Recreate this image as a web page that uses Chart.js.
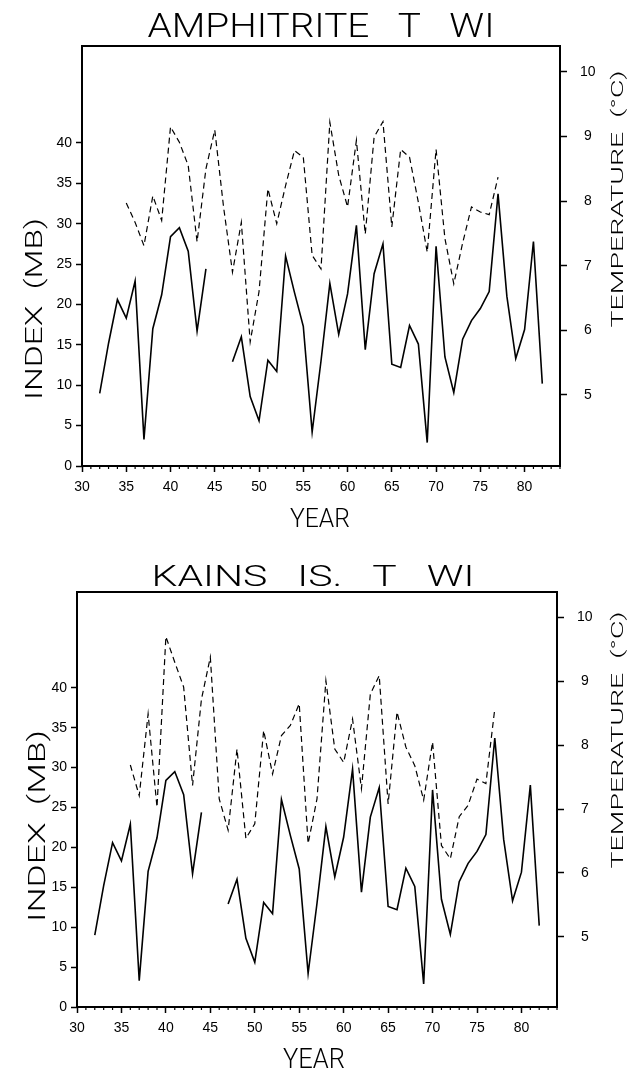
<!DOCTYPE html>
<html>
<head>
<meta charset="utf-8">
<script src="https://cdn.jsdelivr.net/npm/chart.js@4.4.0/dist/chart.umd.min.js"></script>
<style>
  html, body { margin: 0; padding: 0; background: #fff; }
  canvas { display: block; }
</style>
</head>
<body>
<canvas id="chartTop" width="635" height="535"></canvas>
<canvas id="chartBottom" width="635" height="536"></canvas>
<script>
// ----------- data -----------
const years = [32, 33, 34, 35, 36, 37, 38, 39, 40, 41, 42, 43, 44, 45, 46, 47, 48, 49, 50, 51,
               52, 53, 54, 55, 56, 57, 58, 59, 60, 61, 62, 63, 64, 65, 66, 67, 68, 69, 70, 71,
               72, 73, 74, 75, 76, 77, 78, 79, 80, 81, 82];

// wind index (MB), solid line, same series on both panels
const windIndex = [9.0, 15.2, 20.6, 18.3, 22.9, 3.3, 17.0, 21.2, 28.4, 29.5, 26.6, 16.7, 24.4, null, null, 12.9, 16.0, 8.6, 5.6, 13.1,
                   11.7, 26.0, 21.5, 17.3, 4.2, 13.0, 22.6, 16.3, 21.3, 29.8, 14.4, 23.8, 27.5, 12.6, 12.2, 17.4, 15.1, 2.9, 27.2, 13.5,
                   9.1, 15.7, 18.0, 19.5, 21.6, 33.7, 21.0, 13.3, 16.9, 27.8, 10.2];

// temperature (°C), dashed line
const tempAmphitrite = [null, null, null, 7.97, 7.67, 7.31, 8.08, 7.70, 9.15, 8.91, 8.55, 7.37, 8.50, 9.10, 7.90, 6.90, 7.67, 5.82, 6.60, 8.19,
                        7.65, 8.24, 8.78, 8.68, 7.16, 6.95, 9.22, 8.40, 7.91, 8.94, 7.49, 8.99, 9.23, 7.60, 8.80, 8.68, 7.98, 7.21, 8.80, 7.42,
                        6.72, 7.35, 7.91, 7.83, 7.79, 8.37, null, null, null, null, null];

const tempKains = [null, null, null, null, 7.69, 7.21, 8.49, 7.03, 9.70, 9.30, 8.91, 7.37, 8.72, 9.38, 7.16, 6.67, 7.94, 6.54, 6.77, 8.23,
                   7.55, 8.15, 8.31, 8.65, 6.46, 7.16, 9.01, 7.94, 7.73, 8.41, 7.32, 8.80, 9.09, 7.08, 8.52, 7.97, 7.68, 7.14, 8.05, 6.43,
                   6.22, 6.88, 7.06, 7.47, 7.40, 8.57, null, null, null, null, null];

const yearTicks = [30, 35, 40, 45, 50, 55, 60, 65, 70, 75, 80];
const indexTicks = [0, 5, 10, 15, 20, 25, 30, 35, 40];
const tempTicks = [5, 6, 7, 8, 9, 10];

const FONT = '"Liberation Sans", Arial, sans-serif';
const LABEL_FONT = '300 {size}px Roboto, "Liberation Sans", sans-serif';

// draws text squeezed/stretched to a given length (the scanned lettering is wide)
function fitText(ctx, text, x, y, size, len, angle) {
    ctx.save();
    ctx.font = LABEL_FONT.replace('{size}', size);
    const w = ctx.measureText(text).width;
    ctx.translate(x, y);
    ctx.rotate(angle);
    ctx.scale(len / w, 1);
    ctx.textAlign = 'center';
    ctx.textBaseline = 'alphabetic';
    ctx.fillStyle = '#000';
    ctx.fillText(text, 0, 0);
    ctx.restore();
}

// frame, minor year ticks, titles
const decoPlugin = {
    id: 'deco',
    afterDraw(chart, args, opts) {
        const ctx = chart.ctx;
        const a = chart.chartArea;
        const xs = chart.scales.x;

        ctx.save();
        ctx.strokeStyle = '#000';
        ctx.lineWidth = 2;
        ctx.strokeRect(a.left, a.top, a.right - a.left, a.bottom - a.top);

        // minor ticks every year
        ctx.lineWidth = 1.2;
        ctx.beginPath();
        for (let yr = xs.min; yr <= xs.max; yr++) {
            if (yr % 5 === 0) continue;
            const px = xs.getPixelForValue(yr);
            ctx.moveTo(px, a.bottom);
            ctx.lineTo(px, a.bottom + 3);
        }
        ctx.stroke();
        ctx.restore();

        const t = opts.title;
        fitText(ctx, t.text, t.x, t.y, t.size, t.len, 0);
        const yr = opts.year;
        fitText(ctx, 'YEAR', yr.x, yr.y, yr.size, yr.len, 0);
        const l = opts.left;
        fitText(ctx, 'INDEX  (MB)', l.x, l.y, l.size, l.len, -Math.PI / 2);
        const r = opts.right;
        fitText(ctx, 'TEMPERATURE  (°C)', r.x, r.y, r.size, r.len, -Math.PI / 2);
    }
};

function makeChart(canvasId, tempData, box, deco) {
    const ctx = document.getElementById(canvasId).getContext('2d');
    const tickFont = { family: FONT, size: 14 };
    return new Chart(ctx, {
        type: 'line',
        data: {
            datasets: [
                {
                    label: 'Index',
                    data: years.map((yr, i) => ({ x: yr, y: windIndex[i] })),
                    borderColor: '#000',
                    borderWidth: 1.6,
                    pointRadius: 0,
                    tension: 0,
                    yAxisID: 'y'
                },
                {
                    label: 'Temperature',
                    data: years.map((yr, i) => ({ x: yr, y: tempData[i] })),
                    borderColor: '#000',
                    borderWidth: 1.2,
                    borderDash: [6, 4],
                    pointRadius: 0,
                    tension: 0,
                    yAxisID: 'y2'
                }
            ]
        },
        options: {
            responsive: false,
            animation: false,
            layout: { padding: { top: box.top, left: 0, right: 0, bottom: 0 } },
            plugins: {
                legend: { display: false },
                tooltip: { enabled: false },
                deco: deco
            },
            scales: {
                x: {
                    type: 'linear',
                    min: 30,
                    max: 84,
                    afterBuildTicks: s => { s.ticks = yearTicks.map(v => ({ value: v })); },
                    afterFit: s => { s.height = box.xHeight; },
                    border: { display: false },
                    grid: { drawOnChartArea: false, tickLength: 6, tickColor: '#000', tickWidth: 1.5 },
                    ticks: { color: '#000', font: tickFont, padding: 7, maxRotation: 0, autoSkip: false }
                },
                y: {
                    position: 'left',
                    min: 0,
                    max: 52,
                    afterBuildTicks: s => { s.ticks = indexTicks.map(v => ({ value: v })); },
                    afterFit: s => { s.width = box.left; },
                    border: { display: false },
                    grid: { drawOnChartArea: false, tickLength: 6, tickColor: '#000', tickWidth: 1.5 },
                    ticks: { color: '#000', font: tickFont, padding: 4 }
                },
                y2: {
                    position: 'right',
                    min: 3.9,
                    max: 10.4,
                    afterBuildTicks: s => { s.ticks = tempTicks.map(v => ({ value: v })); },
                    afterFit: s => { s.width = 635 - box.right; },
                    border: { display: false },
                    grid: { drawOnChartArea: false, tickLength: 7, tickColor: '#000', tickWidth: 1.5 },
                    ticks: { color: '#000', font: tickFont, padding: 13, crossAlign: 'center' }
                }
            }
        },
        plugins: [decoPlugin]
    });
}

makeChart('chartTop', tempAmphitrite,
    { top: 46, left: 82, right: 560, xHeight: 535 - 466 },
    {
        title: { text: 'AMPHITRITE   T   WI', x: 321, y: 37, size: 33, len: 347 },
        year: { x: 320, y: 527, size: 26, len: 60 },
        left: { x: 42, y: 309, size: 23, len: 182 },
        right: { x: 623, y: 199, size: 16, len: 257 }
    });

makeChart('chartBottom', tempKains,
    { top: 57, left: 77, right: 557, xHeight: 536 - 472 },
    {
        title: { text: 'KAINS   IS.   T   WI', x: 313, y: 51, size: 29, len: 323 },
        year: { x: 314, y: 533, size: 27, len: 62 },
        left: { x: 45, y: 291, size: 23, len: 192 },
        right: { x: 623, y: 205, size: 16, len: 257 }
    });
</script>
</body>
</html>
